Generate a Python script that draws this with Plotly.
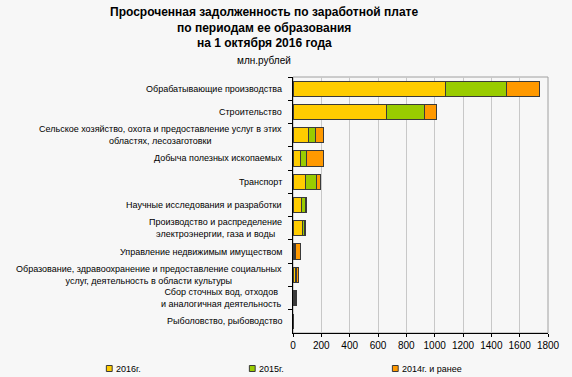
import plotly.graph_objects as go

categories = [
    "Обрабатывающие производства",
    "Строительство",
    "Сельское хозяйство, охота и предоставление услуг в этих<br>областях, лесозаготовки",
    "Добыча полезных ископаемых",
    "Транспорт",
    "Научные исследования и разработки",
    "Производство и распределение<br>электроэнергии, газа и воды",
    "Управление недвижимым имуществом",
    "Образование, здравоохранение и предоставление социальных<br>услуг, деятельность в области культуры",
    "Сбор сточных вод, отходов<br>и аналогичная деятельность",
    "Рыболовство, рыбоводство",
]
series_names = ["2016г.", "2015г.", "2014г. и ранее"]
v2016 = [1078, 658, 110, 55, 89, 57, 64, 8, 18, 8, 0]
v2015 = [430, 270, 52, 41, 80, 30, 14, 8, 10, 9, 0]
v2014 = [235, 84, 55, 121, 23, 6, 8, 39, 9, 8, 0]
series_values = [v2016, v2015, v2014]
colors = ["#FFCC00", "#99CC00", "#FF9900"]
x_ticks = [0, 200, 400, 600, 800, 1000, 1200, 1400, 1600, 1800]

W, H = 572, 377
ML, MR, MT, MB = 293, 16, 77, 44
pw = W - ML - MR
ph = H - MT - MB
BG = "#f7f7f7"
FONT = "Liberation Sans, Arial, sans-serif"

fig = go.Figure()
for name, vals, col in zip(series_names, series_values, colors):
    fig.add_trace(go.Bar(
        y=categories, x=vals, name=name, orientation="h",
        marker=dict(color=col, line=dict(color="#3a3a3a", width=1)),
        showlegend=False,
    ))

annotations = []
for c in categories:
    annotations.append(dict(
        x=-9 / pw, xref="paper", y=c, yref="y", text=c, showarrow=False,
        xanchor="right", yanchor="middle", align="center",
        font=dict(family=FONT, size=9, color="#000000"),
    ))

# titles
cx = (263.5 - ML) / pw
title_lines = [
    ("<b>Просроченная задолженность по заработной плате</b>", 12, 12),
    ("<b>по периодам ее образования</b>", 27.5, 12),
    ("<b>на 1 октября 2016 года</b>", 43, 12),
    ("млн.рублей", 60, 10),
]
for txt, ypx, sz in title_lines:
    annotations.append(dict(
        x=cx, xref="paper", y=1 + (MT - ypx) / ph, yref="paper", text=txt,
        showarrow=False, xanchor="center", yanchor="middle",
        font=dict(family=FONT, size=sz, color="#000000"),
    ))

# legend
legend_px = [103.5, 251, 398.5]
shapes = []
ly = 368.5
for name, col, lx in zip(series_names, colors, legend_px):
    x0 = (lx - 3 - ML) / pw
    x1 = (lx + 3 - ML) / pw
    y0 = 1 + (MT - (ly + 3)) / ph
    y1 = 1 + (MT - (ly - 3)) / ph
    shapes.append(dict(type="rect", xref="paper", yref="paper", x0=x0, x1=x1, y0=y0, y1=y1,
                       fillcolor=col, line=dict(color="#3a3a3a", width=1)))
    annotations.append(dict(
        x=(lx + 4.5 - ML) / pw, xref="paper", y=1 + (MT - ly) / ph, yref="paper",
        text=name, showarrow=False, xanchor="left", yanchor="middle",
        font=dict(family=FONT, size=9, color="#000000"),
    ))

# plot-area border (gray) top/right
shapes.append(dict(type="rect", xref="paper", yref="paper", x0=0, x1=1, y0=0, y1=1,
                   line=dict(color="#a0a0a0", width=1), layer="below"))

fig.update_layout(
    width=W, height=H,
    margin=dict(l=ML, r=MR, t=MT, b=MB),
    paper_bgcolor=BG, plot_bgcolor=BG,
    barmode="stack", bargap=0.35,
    annotations=annotations, shapes=shapes,
    font=dict(family=FONT, size=9, color="#000000"),
)
fig.update_xaxes(
    range=[0, 1800], tickvals=x_ticks, ticktext=[str(t) for t in x_ticks],
    showgrid=True, gridcolor="#c8c8c8", gridwidth=1,
    showline=True, linecolor="#000000", linewidth=1,
    ticks="outside", ticklen=3, tickcolor="#000000",
    tickfont=dict(family=FONT, size=10), zeroline=False,
)
fig.update_yaxes(
    type="category", autorange="reversed", showticklabels=False,
    tickson="boundaries", ticks="outside", ticklen=4, tickcolor="#000000",
    showline=True, linecolor="#000000", linewidth=1, showgrid=False,
)

fig.write_html(
    "out.html",
    config={"displayModeBar": False},
    post_script="document.body.style.margin='0';document.body.style.background='%s';" % BG,
)
